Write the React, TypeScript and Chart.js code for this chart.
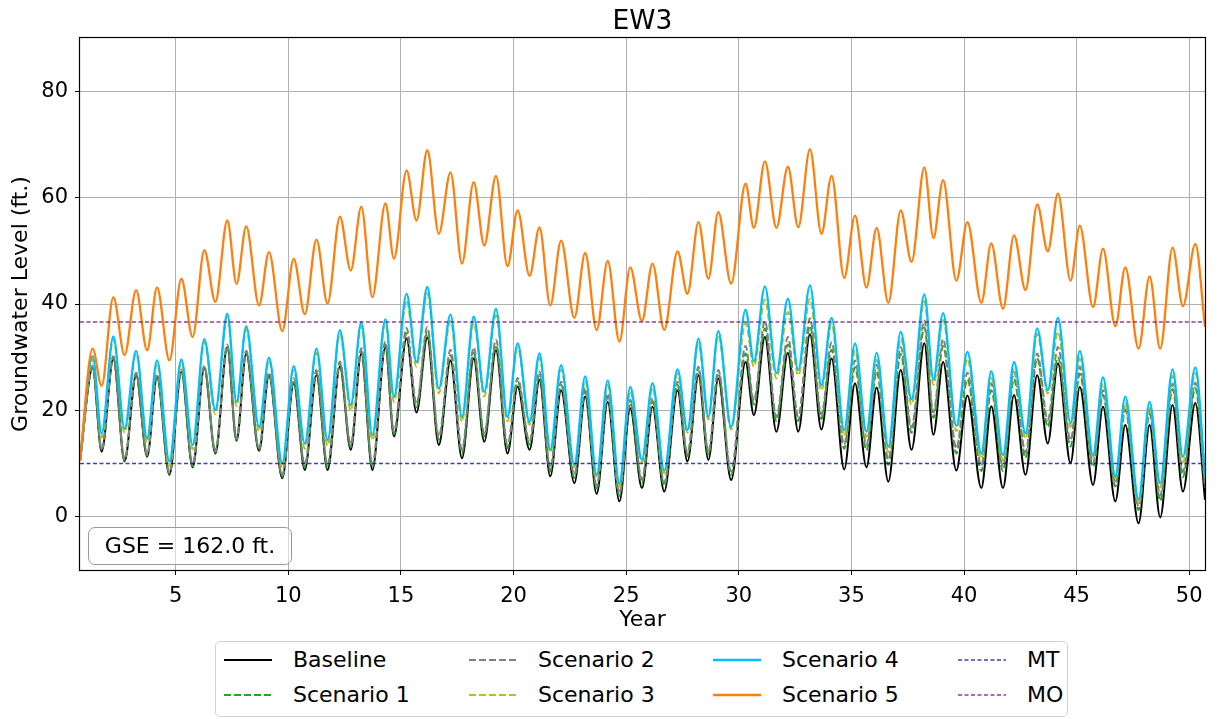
import React, { useEffect, useRef } from "react";
import { Chart, registerables } from "chart.js";

Chart.register(...registerables);

const TITLE = "EW3";
const X_LABEL = "Year";
const Y_LABEL = "Groundwater Level (ft.)";
const GSE_TEXT = "GSE = 162.0 ft.";

const X_MIN = 0.75;
const X_MAX = 50.7;
const Y_MIN = -10;
const Y_MAX = 90;
const X_TICKS = [5, 10, 15, 20, 25, 30, 35, 40, 45, 50];
const Y_TICKS = [0, 20, 40, 60, 80];

const MT_LEVEL = 10;
const MO_LEVEL = 36.6;

// times of seasonal highs / lows (years)
const YEARS = [0.75,
  1.31, 1.71, 2.23, 2.73, 3.24, 3.73, 4.17, 4.72, 5.25, 5.75,
  6.27, 6.76, 7.29, 7.70, 8.13, 8.70, 9.14, 9.73, 10.24, 10.73,
  11.25, 11.74, 12.29, 12.77, 13.24, 13.73, 14.31, 14.69, 15.25, 15.69,
  16.17, 16.68, 17.20, 17.71, 18.23, 18.70, 19.22, 19.73, 20.18, 20.71,
  21.15, 21.63, 22.11, 22.70, 23.18, 23.69, 24.18, 24.70, 25.18, 25.70,
  26.17, 26.69, 27.28, 27.72, 28.21, 28.65, 29.09, 29.66, 30.30, 30.67,
  31.16, 31.67, 32.18, 32.64, 33.16, 33.67, 34.12, 34.68, 35.16, 35.67,
  36.12, 36.64, 37.19, 37.67, 38.24, 38.64, 39.07, 39.66, 40.15, 40.77,
  41.21, 41.73, 42.22, 42.73, 43.25, 43.72, 44.17, 44.73, 45.14, 45.73,
  46.17, 46.72, 47.16, 47.75, 48.24, 48.71, 49.26, 49.72, 50.27, 50.70];

const BASELINE = [10.5,
  27.9, 12.25, 29.75, 10.4, 26.6, 11.3, 26.3, 7.9, 27.25, 9.3,
  27.9, 11.9, 31.9, 14.3, 30.7, 12.4, 26.6, 7.25, 25.1, 8.8,
  26.6, 8.8, 28.2, 12.6, 30.7, 8.8, 31.9, 15.1, 33.5, 19.6,
  33.7, 13.5, 29.4, 11.0, 29.75, 14.1, 31.3, 11.9, 24.5, 12.6,
  25.7, 7.6, 23.8, 6.3, 22.6, 4.3, 21.6, 2.9, 20.4, 5.4,
  20.7, 4.75, 23.8, 10.4, 26.6, 10.7, 26.0, 6.9, 29.1, 19.1,
  33.8, 16.0, 30.8, 16.0, 34.3, 16.4, 29.75, 8.9, 25.1, 9.3,
  24.3, 6.6, 27.6, 12.6, 32.6, 15.4, 29.1, 8.7, 22.8, 5.4,
  20.8, 5.4, 22.9, 7.9, 26.6, 13.8, 28.8, 10.1, 24.4, 6.0,
  20.7, 2.9, 17.25, -1.2, 17.25, -0.1, 21.0, 4.75, 21.4, 3.2];

const SCENARIO_1 = [10.5,
  28.1, 12.5, 29.9, 10.6, 26.8, 11.5, 26.5, 8.1, 27.4, 9.5,
  28.1, 12.1, 32.1, 14.5, 30.9, 12.6, 26.8, 7.5, 25.6, 9.3,
  27.1, 9.3, 28.7, 13.1, 31.2, 9.3, 32.4, 15.6, 34.5, 20.6,
  34.7, 14.5, 30.4, 12.0, 30.8, 15.1, 32.3, 12.9, 25.5, 13.6,
  26.7, 8.6, 24.8, 7.3, 23.6, 5.3, 22.6, 3.9, 21.4, 6.4,
  21.7, 5.8, 24.8, 11.4, 27.6, 11.7, 27.0, 7.9, 30.7, 21.1,
  35.4, 18.0, 32.4, 18.0, 35.9, 18.4, 31.4, 12.8, 28.1, 12.5,
  27.3, 9.8, 30.6, 15.8, 35.6, 18.6, 32.1, 11.9, 25.8, 8.6,
  23.8, 8.6, 25.9, 11.1, 29.75, 16.9, 30.0, 13.2, 26.9, 9.4,
  22.9, 5.7, 20.1, 1.3, 19.4, 3.0, 24.0, 7.5, 24.2, 5.5];

const SCENARIO_2 = [10.5,
  28.4, 12.8, 30.2, 10.9, 27.1, 11.8, 26.8, 8.4, 27.7, 9.8,
  28.4, 12.4, 32.4, 14.8, 31.2, 12.9, 27.1, 7.8, 26.1, 9.8,
  27.6, 9.8, 29.2, 13.6, 31.7, 9.8, 32.9, 16.1, 35.5, 21.2,
  35.7, 15.1, 31.4, 12.6, 31.8, 15.7, 33.3, 13.5, 26.1, 14.2,
  27.3, 9.2, 25.4, 7.9, 24.2, 5.9, 23.2, 4.5, 22.0, 7.0,
  22.3, 6.4, 25.4, 12.0, 28.2, 12.3, 27.6, 8.5, 32.1, 21.9,
  36.8, 18.8, 33.8, 18.8, 37.3, 19.2, 32.8, 13.6, 29.4, 13.5,
  28.6, 10.8, 31.9, 16.8, 36.9, 19.6, 33.4, 12.9, 27.1, 9.6,
  25.1, 9.6, 27.2, 12.1, 30.7, 18.2, 31.9, 14.4, 28.2, 10.1,
  23.8, 6.3, 20.7, 2.0, 20.1, 4.0, 25.0, 8.5, 25.2, 6.3];

const SCENARIO_3 = [10.5,
  29.7, 14.9, 33.4, 15.8, 30.7, 14.0, 28.9, 9.6, 29.1, 12.7,
  32.9, 19.3, 37.7, 20.8, 35.3, 16.1, 29.4, 9.3, 27.6, 12.8,
  30.9, 13.4, 34.4, 20.0, 35.9, 14.4, 36.4, 21.6, 40.7, 28.2,
  42.0, 23.2, 36.8, 17.9, 36.4, 22.6, 37.9, 17.9, 31.8, 17.3,
  29.9, 12.1, 27.7, 9.3, 25.6, 7.4, 24.8, 5.8, 23.6, 10.2,
  24.3, 8.2, 26.9, 15.8, 32.7, 18.3, 34.1, 16.4, 36.4, 28.2,
  40.8, 26.0, 38.5, 26.6, 41.0, 23.8, 36.3, 15.2, 31.3, 15.0,
  29.5, 12.2, 33.5, 21.1, 40.5, 24.8, 37.0, 16.1, 29.7, 10.9,
  26.1, 10.6, 27.8, 14.7, 34.4, 23.2, 34.75, 16.9, 29.75, 11.3,
  25.1, 7.25, 21.4, 2.6, 20.8, 5.5, 26.5, 10.3, 27.0, 7.0];

const SCENARIO_4 = [10.5,
  30.2, 15.7, 33.9, 16.6, 31.2, 14.75, 29.4, 10.4, 29.6, 13.5,
  33.4, 20.1, 38.2, 21.6, 35.8, 16.9, 29.9, 10.1, 28.3, 13.8,
  31.6, 14.4, 35.1, 21.0, 36.6, 15.4, 37.1, 22.6, 41.9, 29.1,
  43.2, 24.1, 38.0, 18.8, 37.6, 23.5, 39.1, 18.8, 32.6, 17.8,
  30.7, 12.6, 28.5, 9.75, 26.4, 7.9, 25.6, 6.3, 24.4, 10.7,
  25.1, 8.7, 27.7, 16.3, 33.5, 18.8, 34.9, 16.9, 38.9, 29.2,
  43.3, 27.0, 41.0, 27.6, 43.5, 24.75, 37.4, 16.3, 32.6, 16.0,
  30.8, 13.2, 34.75, 22.1, 41.8, 25.8, 38.3, 17.1, 31.0, 11.9,
  27.4, 11.6, 29.1, 15.7, 35.4, 23.8, 37.4, 17.6, 31.2, 11.6,
  26.2, 7.6, 22.6, 3.3, 21.6, 6.3, 27.7, 11.3, 28.1, 7.6];

const SCENARIO_5 = [10.5,
  31.6, 24.6, 41.3, 30.4, 42.6, 31.3, 43.1, 29.4, 44.75, 33.8,
  50.1, 40.4, 55.7, 43.8, 54.6, 39.75, 49.75, 34.9, 48.5, 38.1,
  52.1, 40.1, 56.4, 46.3, 58.3, 41.3, 58.9, 48.5, 65.1, 55.7,
  68.9, 53.2, 64.75, 47.6, 62.9, 51.0, 64.1, 47.1, 57.6, 45.3,
  54.4, 39.75, 51.9, 37.4, 49.6, 35.1, 48.1, 32.9, 46.9, 36.8,
  47.6, 35.1, 49.9, 41.9, 55.4, 44.75, 57.25, 43.8, 62.6, 54.3,
  66.8, 54.3, 65.8, 54.4, 69.1, 53.2, 64.1, 44.9, 56.6, 43.1,
  54.3, 40.2, 57.6, 47.9, 65.7, 52.4, 63.3, 44.4, 55.4, 40.2,
  51.4, 39.1, 52.9, 42.6, 58.7, 49.9, 60.8, 44.4, 54.75, 39.4,
  50.4, 35.8, 46.9, 31.6, 45.2, 31.6, 50.6, 39.6, 51.3, 35.7];

const FONT = "'DejaVu Sans', sans-serif";
const DASH = [7, 3];
const THIN_DASH = [4, 2.5];

type SeriesDef = { label: string; values: number[] | null; level?: number; color: string; width: number; dash: number[]; order: number };

const SERIES: SeriesDef[] = [
  { label: "Baseline", values: BASELINE, color: "#000000", width: 2, dash: [], order: 10 },
  { label: "Scenario 1", values: SCENARIO_1, color: "#2ca02c", width: 2, dash: DASH, order: 9 },
  { label: "Scenario 2", values: SCENARIO_2, color: "#808080", width: 2, dash: DASH, order: 8 },
  { label: "Scenario 3", values: SCENARIO_3, color: "#bcbd22", width: 2, dash: DASH, order: 7 },
  { label: "Scenario 4", values: SCENARIO_4, color: "#00bfff", width: 2.3, dash: [], order: 6 },
  { label: "Scenario 5", values: SCENARIO_5, color: "#ff7f0e", width: 2.3, dash: [], order: 5 },
  { label: "MT", values: null, level: MT_LEVEL, color: "rgba(0,0,150,0.75)", width: 1.5, dash: THIN_DASH, order: 4 },
  { label: "MO", values: null, level: MO_LEVEL, color: "rgba(128,0,128,0.78)", width: 1.5, dash: THIN_DASH, order: 3 },
];

// legend layout: column-major, 2 rows
const LEGEND_ORDER = ["Baseline", "Scenario 1", "Scenario 2", "Scenario 3", "Scenario 4", "Scenario 5", "MT", "MO"];

const framePlugin = {
  id: "frame",
  afterDraw(chart: any) {
    const { ctx, chartArea } = chart;
    const l = Math.round(chartArea.left), t = Math.round(chartArea.top);
    const r = Math.round(chartArea.right), b = Math.round(chartArea.bottom);
    ctx.save();
    ctx.strokeStyle = "#000";
    ctx.lineWidth = 1.2;
    ctx.strokeRect(l - 0.5, t - 0.5, r - l + 1, b - t + 1);
    ctx.restore();
  },
};

export default function App() {
  const ref = useRef<HTMLCanvasElement | null>(null);

  useEffect(() => {
    if (!ref.current) return;
    const datasets = SERIES.map((s) => ({
      label: s.label,
      data: s.values
        ? YEARS.map((x, i) => ({ x, y: (s.values as number[])[i] }))
        : [{ x: X_MIN, y: s.level as number }, { x: X_MAX, y: s.level as number }],
      borderColor: s.color,
      backgroundColor: s.color,
      borderWidth: s.width,
      borderDash: s.dash,
      pointRadius: 0,
      fill: false,
      cubicInterpolationMode: "monotone" as const,
      order: s.order,
    }));

    const chart = new Chart(ref.current, {
      type: "line",
      data: { datasets },
      options: {
        animation: false,
        responsive: false,
        maintainAspectRatio: false,
        layout: { padding: { left: 0, right: 15, top: 38, bottom: 79 } },
        plugins: {
          legend: { display: false },
          title: { display: false },
          tooltip: { enabled: false },
        },
        scales: {
          x: {
            type: "linear",
            min: X_MIN,
            max: X_MAX,
            afterBuildTicks: (scale: any) => {
              scale.ticks = X_TICKS.map((v) => ({ value: v }));
            },
            afterFit: (scale: any) => {
              scale.height = 70;
            },
            grid: { color: "#b0b0b0", lineWidth: 1, tickLength: 5, tickColor: "#000", drawTicks: true },
            border: { display: false },
            ticks: { font: { family: FONT, size: 21 }, color: "#000", padding: 9, maxRotation: 0, autoSkip: false },
            title: { display: true, text: X_LABEL, font: { family: FONT, size: 22 }, color: "#000", padding: { top: 0, bottom: 7 } },
          },
          y: {
            type: "linear",
            min: Y_MIN,
            max: Y_MAX,
            afterBuildTicks: (scale: any) => {
              scale.ticks = Y_TICKS.map((v) => ({ value: v }));
            },
            afterFit: (scale: any) => {
              scale.width = 80;
            },
            grid: { color: "#b0b0b0", lineWidth: 1, tickLength: 5, tickColor: "#000", drawTicks: true },
            border: { display: false },
            ticks: { font: { family: FONT, size: 21 }, color: "#000", padding: 7, autoSkip: false },
            title: { display: true, text: Y_LABEL, font: { family: FONT, size: 22 }, color: "#000", padding: { top: 8, bottom: 0 } },
          },
        },
      },
      plugins: [framePlugin],
    });
    return () => chart.destroy();
  }, []);

  const legendCols = [224, 469, 713, 958];
  const legendRows = [660, 695];

  return (
    <div style={{ position: "fixed", left: 0, top: 0, width: 1220, height: 719, background: "#fff", fontFamily: FONT, color: "#000" }}>
      <canvas ref={ref} width={1220} height={719} style={{ display: "block", width: 1220, height: 719 }} />
      <div style={{ position: "absolute", left: 80, width: 1125, top: 4, height: 32, lineHeight: "32px", textAlign: "center", fontSize: 26.5 }}>
        {TITLE}
      </div>
      <div
        style={{
          position: "absolute", left: 88, top: 527, width: 204, height: 38, boxSizing: "border-box",
          border: "1.3px solid #999", borderRadius: 7, background: "rgba(255,255,255,0.5)",
          fontSize: 22, lineHeight: "36px", textAlign: "center", whiteSpace: "nowrap",
        }}
      >
        {GSE_TEXT}
      </div>
      <div
        style={{
          position: "absolute", left: 215, top: 641, width: 853, height: 76, boxSizing: "border-box",
          border: "1px solid #d0d0d0", borderRadius: 5, background: "#fff",
        }}
      />
      {LEGEND_ORDER.map((name, i) => {
        const s = SERIES.find((d) => d.label === name) as SeriesDef;
        const col = Math.floor(i / 2);
        const row = i % 2;
        const x = legendCols[col];
        const y = legendRows[row];
        return (
          <React.Fragment key={name}>
            <svg style={{ position: "absolute", left: x, top: y - 3 }} width={48} height={6}>
              <line x1={0} y1={3} x2={48} y2={3} stroke={s.color} strokeWidth={s.width}
                strokeDasharray={s.dash.length ? s.dash.join(" ") : undefined} />
            </svg>
            <div style={{ position: "absolute", left: x + 69, top: y - 15, height: 30, lineHeight: "30px", fontSize: 22, whiteSpace: "nowrap" }}>
              {name}
            </div>
          </React.Fragment>
        );
      })}
    </div>
  );
}
